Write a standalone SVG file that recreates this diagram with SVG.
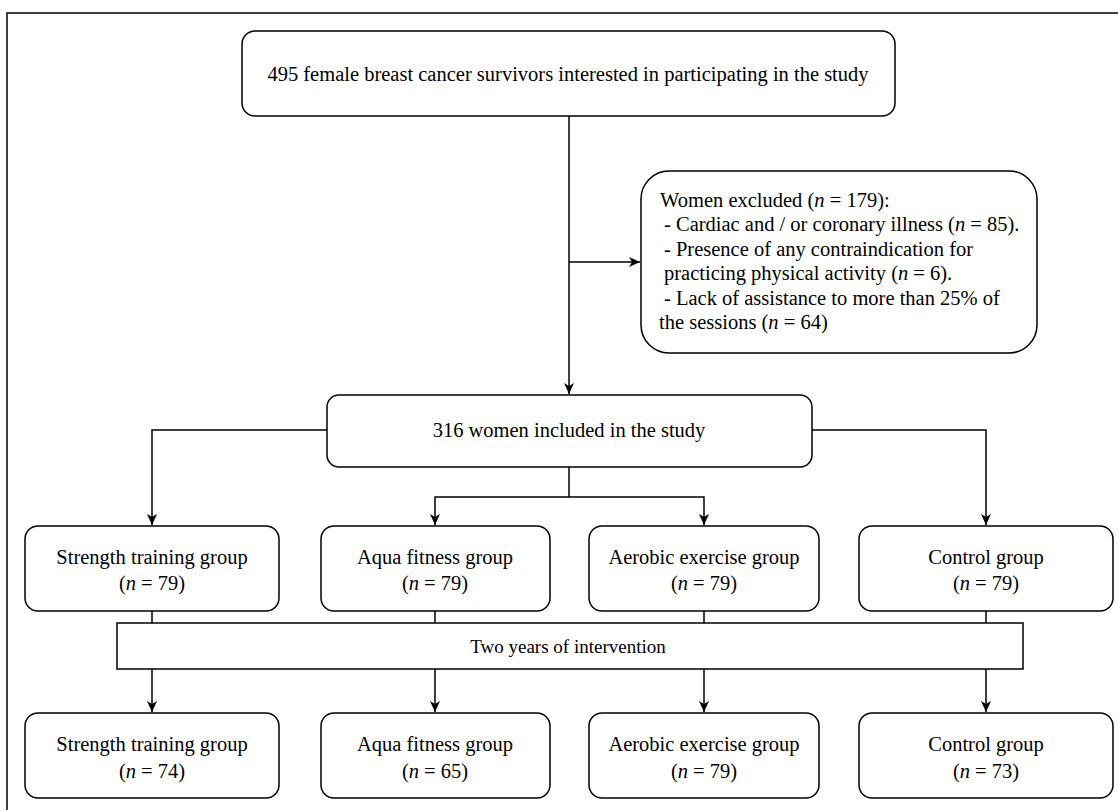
<svg xmlns="http://www.w3.org/2000/svg" width="1118" height="810" viewBox="0 0 1118 810">
<defs>
<style>
.box{fill:#fff;stroke:#000;stroke-width:1.5}
.ln{fill:none;stroke:#000;stroke-width:1.5}
.ar{fill:none;stroke:#000;stroke-width:1.5;marker-end:url(#ah)}
text{font-family:"Liberation Serif","Times New Roman",serif;font-size:20.5px;fill:#000}
.c{text-anchor:middle}
.i{font-style:italic}
</style>
<marker id="ah" markerWidth="12" markerHeight="10" refX="11" refY="5" orient="auto" markerUnits="userSpaceOnUse">
<path d="M0,0 L11,5 L0,10 L3,5 z" fill="#000"/>
</marker>
</defs>
<rect width="1118" height="810" fill="#fff"/>
<path class="ln" d="M7,810 V13 H1118" stroke-width="2"/>

<g id="connectors">
<path class="ar" d="M569,116 V394"/>
<path class="ar" d="M569,262 H640"/>
<path class="ar" d="M327,430 H152 V525"/>
<path class="ar" d="M812,430 H986 V525"/>
<path class="ln" d="M569,467 V497"/>
<path class="ar" d="M569,497 H435 V525"/>
<path class="ar" d="M569,497 H704 V525"/>
<path class="ln" d="M152,611 V623"/>
<path class="ln" d="M435,611 V623"/>
<path class="ln" d="M704,611 V623"/>
<path class="ln" d="M986,611 V623"/>
<path class="ar" d="M152,669 V712"/>
<path class="ar" d="M435,669 V712"/>
<path class="ar" d="M704,669 V712"/>
<path class="ar" d="M986,669 V712"/>
</g>

<g id="n_start">
<rect class="box" x="242" y="31" width="653" height="85" rx="13"/>
<text class="c" x="568" y="81">495 female breast cancer survivors interested in participating in the study</text>
</g>

<g id="n_excluded">
<rect class="box" x="641" y="171" width="396" height="182" rx="28"/>
<text x="660" y="207">Women excluded (<tspan class="i">n</tspan> = 179):</text>
<text x="664" y="231">- Cardiac and / or coronary illness (<tspan class="i">n</tspan> = 85).</text>
<text x="664" y="256">- Presence of any contraindication for</text>
<text x="664" y="280">practicing physical activity (<tspan class="i">n</tspan> = 6).</text>
<text x="664" y="305">- Lack of assistance to more than 25% of</text>
<text x="659" y="329">the sessions (<tspan class="i">n</tspan> = 64)</text>
</g>

<g id="n_included">
<rect class="box" x="327" y="395" width="485" height="72" rx="12"/>
<text class="c" x="569" y="437">316 women included in the study</text>
</g>

<g id="n_st1">
<rect class="box" x="25" y="526" width="254" height="85" rx="13"/>
<text class="c" x="152" y="564">Strength training group</text>
<text class="c" x="152" y="590">(<tspan class="i">n</tspan> = 79)</text>
</g>
<g id="n_aq1">
<rect class="box" x="321" y="526" width="229" height="85" rx="13"/>
<text class="c" x="435" y="564">Aqua fitness group</text>
<text class="c" x="435" y="590">(<tspan class="i">n</tspan> = 79)</text>
</g>
<g id="n_ae1">
<rect class="box" x="589" y="526" width="230" height="85" rx="13"/>
<text class="c" x="704" y="564">Aerobic exercise group</text>
<text class="c" x="704" y="590">(<tspan class="i">n</tspan> = 79)</text>
</g>
<g id="n_co1">
<rect class="box" x="859" y="526" width="254" height="85" rx="13"/>
<text class="c" x="986" y="564">Control group</text>
<text class="c" x="986" y="590">(<tspan class="i">n</tspan> = 79)</text>
</g>

<g id="n_intervention">
<rect class="box" x="117" y="623" width="906" height="46"/>
<text class="c" x="568" y="653" style="font-size:19px">Two years of intervention</text>
</g>

<g id="n_st2">
<rect class="box" x="25" y="713" width="254" height="85" rx="13"/>
<text class="c" x="152" y="751">Strength training group</text>
<text class="c" x="152" y="778">(<tspan class="i">n</tspan> = 74)</text>
</g>
<g id="n_aq2">
<rect class="box" x="321" y="713" width="229" height="85" rx="13"/>
<text class="c" x="435" y="751">Aqua fitness group</text>
<text class="c" x="435" y="778">(<tspan class="i">n</tspan> = 65)</text>
</g>
<g id="n_ae2">
<rect class="box" x="589" y="713" width="230" height="85" rx="13"/>
<text class="c" x="704" y="751">Aerobic exercise group</text>
<text class="c" x="704" y="778">(<tspan class="i">n</tspan> = 79)</text>
</g>
<g id="n_co2">
<rect class="box" x="859" y="713" width="254" height="85" rx="13"/>
<text class="c" x="986" y="751">Control group</text>
<text class="c" x="986" y="778">(<tspan class="i">n</tspan> = 73)</text>
</g>
</svg>
